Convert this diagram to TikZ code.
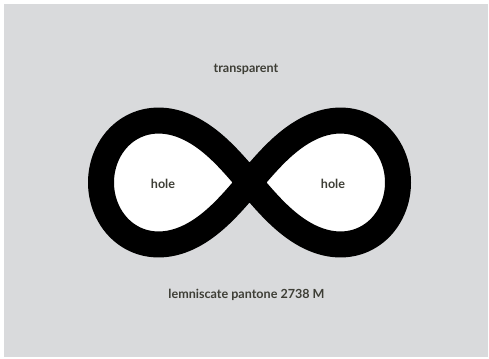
\documentclass[tikz,border=0pt]{standalone}
\usepackage{fontspec}
\setmainfont{Lato}
\definecolor{bg}{RGB}{217,218,220}
\definecolor{ink}{RGB}{62,62,54}
\tikzset{
  lbl/.style={text=ink, font=\bfseries\fontsize{12.6}{14}\selectfont, inner sep=0pt, anchor=center},
  lemni/.style={line width=26bp, draw=black, fill=white, line join=round}
}
\begin{document}
\begin{tikzpicture}[x=1bp,y=-1bp]
\useasboundingbox (0,0) rectangle (489,358);
\fill[white] (0,0) rectangle (489,358);
\fill[bg] (4,4) rectangle (488,357);
\draw[lemni] plot[domain=0:360, samples=240, smooth]
  ({249.5 + 148.5*cos(\x)/(1+sin(\x)^2)}, {182.5 + 1.18*148.5*sin(\x)*cos(\x)/(1+sin(\x)^2)}) -- cycle;
\node[lbl] (top) at (246,69) {transparent};
\node[lbl] (h1) at (163,183.5) {hole};
\node[lbl] (h2) at (333,183.5) {hole};
\node[lbl] (bot) at (246.5,295) {lemniscate pantone 2738 M};
\end{tikzpicture}
\end{document}
